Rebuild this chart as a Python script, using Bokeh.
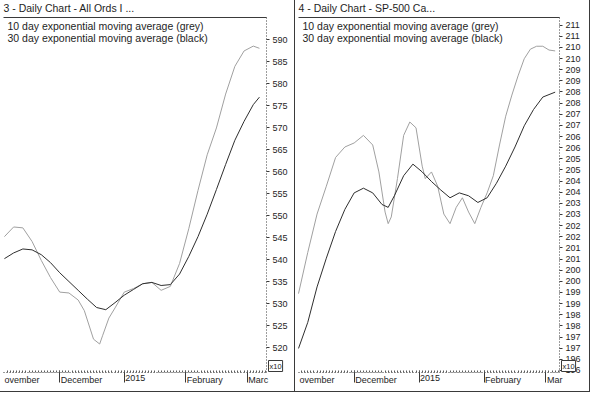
from bokeh.plotting import figure
from bokeh.models import FixedTicker, Label, Range1d, LinearAxis
from bokeh.layouts import row
from bokeh.embed import file_html
from bokeh.resources import INLINE

FONT = "Liberation Sans"
GREY = "#a0a0a0"
BLACK = "#2e2e2e"
TXT = "#1e1e1e"
EDGE = "#3a3a3a"

# ---------------- Panel 3: All Ords (x10) ----------------
ao_title = "3 - Daily Chart - All Ords I  ..."
ao_days = [0, 3, 6, 9, 12, 15, 18, 21, 24, 26, 29, 31, 32, 34, 36, 39, 42, 45, 48,
           51, 54, 57, 60, 63, 66, 69, 72, 75, 78, 81, 83]
ao_ema10 = [545.2, 547.4, 547.2, 544.1, 539.8, 535.9, 532.6, 532.4, 530.8, 528.4,
            521.9, 520.8, 522.8, 526.7, 529.0, 532.6, 533.4, 534.5, 534.8, 533.0,
            533.9, 539.1, 547.0, 555.7, 563.8, 569.9, 577.6, 583.9, 587.4, 588.5,
            588.0]
ao_days30 = [0, 3, 6, 9, 12, 15, 18, 21, 24, 27, 30, 33, 36, 39, 42, 45, 48, 51, 54,
             57, 60, 63, 66, 69, 72, 75, 78, 81, 83]
ao_ema30 = [540.2, 541.5, 542.4, 542.2, 541.1, 539.3, 537.0, 535.0, 533.0, 531.0,
            529.1, 528.6, 530.2, 531.9, 533.2, 534.5, 534.8, 534.1, 534.3, 536.7,
            540.7, 545.2, 550.3, 555.9, 561.6, 567.1, 571.4, 575.2, 576.9]
ao_month_days = [0, 18, 39, 59, 79]
ao_month_labels = ["ovember", "December", "2015", "February", "Marc"]
ao_yticks = [520, 525, 530, 535, 540, 545, 550, 555, 560, 565, 570, 575, 580, 585, 590]
ao_ytick_labels = ["520", "525", "530", "535", "540", "545", "550", "555", "560",
                   "565", "570", "575", "580", "585", "590"]
ao_xrange = (-0.3, 85.3)
ao_yrange = (514.33, 595.0)

# ---------------- Panel 4: SP-500 (x10) ----------------
sp_title = "4 - Daily Chart - SP-500 Ca..."
sp_days10 = [0, 3, 6, 9, 12, 15, 18, 21, 24, 26, 28, 29, 30, 32, 34, 36, 38, 40, 41,
             43, 45, 47, 49, 51, 53, 55, 57, 59, 61, 63, 65, 67, 69, 71, 73, 75, 77,
             79, 81, 83]
sp_ema10 = [198.95, 200.80, 202.52, 203.77, 205.06, 205.53, 205.71, 206.05, 205.62,
            204.41, 202.61, 202.09, 202.39, 204.11, 206.05, 206.65, 206.39, 204.67,
            204.11, 204.41, 203.77, 202.52, 202.09, 202.82, 203.25, 202.61, 202.09,
            202.82, 203.47, 204.24, 205.62, 206.91, 207.86, 208.72, 209.49, 209.92,
            210.05, 210.05, 209.88, 209.84]
sp_days30 = [0, 3, 6, 9, 12, 15, 18, 21, 24, 27, 29, 31, 34, 37, 40, 43, 46, 49, 52,
             55, 58, 61, 64, 67, 70, 73, 76, 79, 83]
sp_ema30 = [196.49, 197.66, 199.25, 200.54, 201.74, 202.73, 203.47, 203.68, 203.47,
            202.95, 202.82, 203.34, 204.24, 204.76, 204.41, 203.98, 203.60, 203.25,
            203.47, 203.34, 203.04, 203.25, 203.90, 204.67, 205.53, 206.48, 207.21,
            207.77, 207.99]
sp_month_days = [0, 18, 39, 60, 80]
sp_month_labels = ["ovember", "December", "2015", "February", "Mar"]
sp_yticks = [211, 210.5, 210, 209.5, 209, 208.5, 208, 207.5, 207, 206.5, 206, 205.5,
             205, 204.5, 204, 203.5, 203, 202.5, 202, 201.5, 201, 200.5, 200, 199.5,
             199, 198.5, 198, 197.5, 197, 196.5, 196, 195.5]
sp_ytick_labels = ["211", "211", "210", "210", "209", "209", "208", "208", "207", "207",
                   "206", "206", "205", "205", "204", "204", "203", "203", "202", "202",
                   "201", "201", "200", "200", "199", "199", "198", "198", "197", "197",
                   "196", "196"]
sp_xrange = (0.0, 84.4)
sp_yrange = (195.41, 211.34)

legend_lines = ["10 day exponential moving average (grey)",
                "30 day exponential moving average (black)"]

W, H = 295, 392          # panel size in pixels
PLOT_TOP, PLOT_BOTTOM = 17, 20   # pixel margins of the plotting area inside a panel


def full_range(lo, hi, px_lo, px_hi, px_total):
    upp = (hi - lo) / (px_hi - px_lo)
    return (lo - px_lo * upp, hi + (px_total - px_hi) * upp)


def make_panel(title, d10, v10, d30, v30, month_days, month_labels, yticks, ylabels,
               xr, yr, px_left, px_right):
    fx = full_range(xr[0], xr[1], px_left, W - px_right, W)
    fy = full_range(yr[0], yr[1], PLOT_BOTTOM, H - PLOT_TOP, H)
    p = figure(width=W, height=H, x_range=Range1d(*fx), y_range=Range1d(*fy),
               x_axis_location=None, y_axis_location=None, title=None,
               output_backend="svg", toolbar_location=None, min_border=0,
               styles={"border-right": "1px solid " + EDGE,
                       "border-bottom": "1px solid " + EDGE})
    p.outline_line_color = None
    p.xgrid.visible = False
    p.ygrid.visible = False
    p.background_fill_color = "white"
    p.border_fill_color = "white"

    p.line(d10, v10, line_color=GREY, line_width=1)
    p.line(d30, v30, line_color=BLACK, line_width=1)

    # top edge of the plotting area
    top = LinearAxis(fixed_location=yr[1], bounds=xr,
                     ticker=FixedTicker(ticks=[], minor_ticks=[]))
    top.axis_line_color = EDGE
    top.major_label_text_color = None
    p.add_layout(top, "above")

    # y axis on the right of the plotting area
    ya = LinearAxis(fixed_location=xr[1], bounds=yr,
                    ticker=FixedTicker(ticks=yticks, minor_ticks=[]))
    ya.major_label_overrides = {t: l for t, l in zip(yticks, ylabels)}
    ya.axis_line_dash = "1 2"
    ya.axis_line_color = EDGE
    ya.major_tick_out = 3
    ya.major_tick_in = 0
    ya.major_tick_line_color = EDGE
    ya.minor_tick_line_color = None
    ya.major_label_text_font = FONT
    ya.major_label_text_font_size = "9px"
    ya.major_label_text_color = TXT
    ya.major_label_standoff = 3
    p.add_layout(ya, "right")

    # x axis at the bottom: month ticks + daily minor ticks
    day_ticks = list(range(int(xr[0]) + 1, int(xr[1]) + 1))
    xa = LinearAxis(fixed_location=yr[0], bounds=xr,
                    ticker=FixedTicker(ticks=month_days[1:], minor_ticks=day_ticks))
    xa.major_label_text_color = None
    xa.axis_line_dash = "1 2"
    xa.axis_line_color = EDGE
    xa.major_tick_out = 10
    xa.major_tick_in = 2
    xa.major_tick_line_color = EDGE
    xa.minor_tick_in = 2
    xa.minor_tick_out = 0
    xa.minor_tick_line_color = "#5a5a5a"
    p.add_layout(xa, "below")

    # month names, written from each month tick to the right
    for i, (d, lab) in enumerate(zip(month_days, month_labels)):
        xpos = xr[0] if i == 0 else d
        p.add_layout(Label(x=xpos, y=yr[0], x_offset=1, y_offset=-2, text=lab,
                           text_align="left", text_baseline="top",
                           text_font=FONT, text_font_size="9px", text_color=TXT))

    # title
    p.add_layout(Label(x=fx[0], y=yr[1], x_offset=3, y_offset=16, text=title,
                       text_align="left", text_baseline="top",
                       text_font=FONT, text_font_size="10.5px", text_color=TXT))

    # legend text lines
    for j, txt in enumerate(legend_lines):
        p.add_layout(Label(x=xr[0], y=yr[1], x_offset=4, y_offset=-2 - 12 * j,
                           text=txt, text_align="left", text_baseline="top",
                           text_font=FONT, text_font_size="10.5px", text_color=TXT))

    # x10 scale box
    p.add_layout(Label(x=xr[1], y=yr[0], x_offset=2, y_offset=1, text="x10",
                       text_align="left", text_baseline="bottom",
                       text_font=FONT, text_font_size="7.5px", text_color=TXT,
                       border_line_color=EDGE, background_fill_color="white",
                       padding=1))
    return p


p1 = make_panel(ao_title, ao_days, ao_ema10, ao_days30, ao_ema30, ao_month_days,
                ao_month_labels, ao_yticks, ao_ytick_labels, ao_xrange, ao_yrange, 3, 29)
p2 = make_panel(sp_title, sp_days10, sp_ema10, sp_days30, sp_ema30, sp_month_days,
                sp_month_labels, sp_yticks, sp_ytick_labels, sp_xrange, sp_yrange, 3, 31)

layout = row(p1, p2)
open("out.html", "w").write(file_html(layout, INLINE))
